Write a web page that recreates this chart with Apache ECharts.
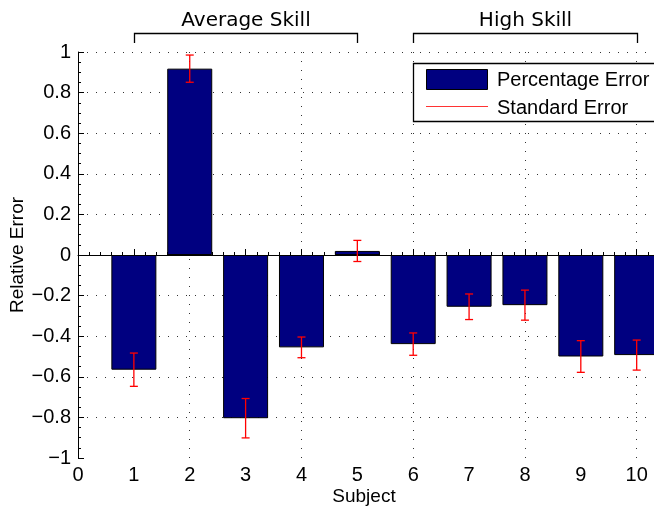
<!DOCTYPE html>
<html lang="en">
<head>
<meta charset="UTF-8">
<title>Relative Error by Subject</title>
<script src="https://cdn.jsdelivr.net/npm/echarts@6/dist/echarts.min.js"></script>
<style>
  body { margin: 0; padding: 0; background: #fff; }
  #chart { width: 654px; height: 506px; }
</style>
</head>
<body>
<div id="chart"></div>
<script>
// values
const subjects = [1, 2, 3, 4, 5, 6, 7, 8, 9, 10];
const percentageError = [-0.565, 0.918, -0.804, -0.455, 0.02, -0.439, -0.255, -0.247, -0.5, -0.493];
const standardError = [0.082, 0.067, 0.097, 0.051, 0.052, 0.055, 0.063, 0.074, 0.078, 0.074];

// skill groups drawn as brackets above the plot
const groupNames = ['Average Skill', 'High Skill'];
const groupStart = [1, 6];
const groupEnd = [5, 10];

const FONT = 'Liberation Sans';
const X_MAX = 10.31;

const chart = echarts.init(document.getElementById('chart'));

const barData = subjects.map((s, i) => [s, percentageError[i]]);
const errData = subjects.map((s, i) => [s, percentageError[i], standardError[i]]);

function fmtY(v) {
    const s = (Math.round(v * 10) / 10).toString();
    return s.replace('-', '\u2212');
}

const dotted = { color: '#333', width: 1, type: [1, 8] };

const option = {
    animation: false,
    grid: { left: 78, right: 0, top: 52, bottom: 48, outerBoundsMode: 'none', containLabel: false },
    xAxis: [{
        type: 'value',
        min: 0,
        max: X_MAX,
        interval: 1,
        axisLine: { lineStyle: { color: '#000', width: 1 } },
        axisTick: { inside: true, length: 6, lineStyle: { color: '#000' } },
        minorTick: { show: true, splitNumber: 5, length: 3, lineStyle: { color: '#000' } },
        axisLabel: {
            color: '#000', fontFamily: FONT, fontSize: 20, margin: 7,
            showMaxLabel: false,
            formatter: v => (Number.isInteger(v) ? String(v) : '')
        },
        splitLine: { show: false }
    }, {
        // only used for the vertical dotted grid every 2 subjects
        type: 'value',
        position: 'bottom',
        min: 0,
        max: X_MAX,
        interval: 2,
        axisLine: { show: false },
        axisTick: { show: false },
        axisLabel: { show: false },
        splitLine: { show: true, showMinLine: false, showMaxLine: false, lineStyle: dotted }
    }],
    yAxis: {
        type: 'value',
        min: -1,
        max: 1,
        interval: 0.2,
        name: 'Relative Error',
        nameLocation: 'middle',
        nameGap: 51,
        nameMoveOverlap: false,
        nameTextStyle: { color: '#000', fontFamily: FONT, fontSize: 19 },
        axisLine: { lineStyle: { color: '#000', width: 1 } },
        axisTick: { inside: true, length: 6, lineStyle: { color: '#000' } },
        minorTick: { show: true, splitNumber: 4, length: 3, lineStyle: { color: '#000' } },
        axisLabel: { color: '#000', fontFamily: FONT, fontSize: 20, margin: 7, formatter: fmtY },
        splitLine: { show: true, showMinLine: false, lineStyle: dotted }
    },
    series: [{
        name: 'Percentage Error',
        type: 'bar',
        xAxisIndex: 0,
        barWidth: 45,
        data: barData,
        itemStyle: { color: '#000080', borderColor: '#000', borderWidth: 1 },
        markLine: {
            silent: true,
            symbol: 'none',
            label: { show: false },
            lineStyle: { color: '#000', type: 'solid', width: 1 },
            data: [{ yAxis: 0 }]
        },
        z: 2
    }, {
        name: 'Standard Error',
        type: 'custom',
        xAxisIndex: 0,
        data: errData,
        z: 5,
        renderItem: function (params, api) {
            const x = api.value(0), y = api.value(1), e = api.value(2);
            const top = api.coord([x, y + e]);
            const bot = api.coord([x, y - e]);
            const cap = 4;
            const style = { stroke: '#ff0000', lineWidth: 1.3 };
            return {
                type: 'group',
                children: [
                    { type: 'line', shape: { x1: top[0], y1: top[1], x2: bot[0], y2: bot[1] }, style: style },
                    { type: 'line', shape: { x1: top[0] - cap, y1: top[1], x2: top[0] + cap, y2: top[1] }, style: style },
                    { type: 'line', shape: { x1: bot[0] - cap, y1: bot[1], x2: bot[0] + cap, y2: bot[1] }, style: style }
                ]
            };
        }
    }]
};

chart.setOption(option);

// brackets, legend box and x-axis title
const gfx = [];
groupNames.forEach((name, i) => {
    const a = Math.round(chart.convertToPixel({ xAxisIndex: 0 }, groupStart[i])) + 0.5;
    const b = Math.round(chart.convertToPixel({ xAxisIndex: 0 }, groupEnd[i])) + 0.5;
    gfx.push({
        type: 'polyline',
        shape: { points: [[a, 43], [a, 33.5], [b, 33.5], [b, 43]] },
        style: { stroke: '#000', lineWidth: 1.3, fill: null }
    });
    gfx.push({
        type: 'text',
        style: {
            text: name, x: (a + b) / 2, y: 21, align: 'center', verticalAlign: 'middle',
            fontFamily: 'DejaVu Sans', fontSize: 20, fill: '#000'
        }
    });
});

gfx.push({
    type: 'rect', z: 10,
    shape: { x: 413.5, y: 63.5, width: 260, height: 58 },
    style: { fill: '#fff', stroke: '#000', lineWidth: 1.3 }
});
gfx.push({
    type: 'rect', z: 11,
    shape: { x: 426.5, y: 69.5, width: 61, height: 20 },
    style: { fill: '#000080', stroke: '#000', lineWidth: 1 }
});
gfx.push({
    type: 'line', z: 11,
    shape: { x1: 426, y1: 106.5, x2: 488, y2: 106.5 },
    style: { stroke: '#ff3333', lineWidth: 1 }
});
gfx.push({
    type: 'text', z: 11,
    style: { text: 'Percentage Error', x: 497, y: 80, verticalAlign: 'middle', fontFamily: FONT, fontSize: 20, fill: '#000' }
});
gfx.push({
    type: 'text', z: 11,
    style: { text: 'Standard Error', x: 497, y: 108, verticalAlign: 'middle', fontFamily: FONT, fontSize: 20, fill: '#000' }
});
gfx.push({
    type: 'text',
    style: { text: 'Subject', x: 364, y: 497, align: 'center', verticalAlign: 'middle', fontFamily: FONT, fontSize: 19, fill: '#000' }
});

chart.setOption({ graphic: gfx });
</script>
</body>
</html>
